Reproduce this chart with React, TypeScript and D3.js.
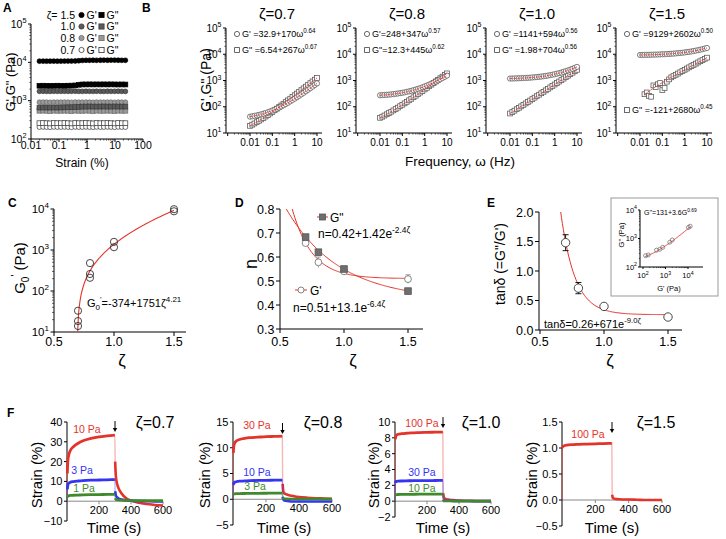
import React from "react";
import * as d3 from "d3";

const FONT = "'Liberation Sans', Arial, Helvetica, sans-serif";
const RED = "#e3342b";
const BLUE = "#3434f2";
const GREEN = "#3f8a2d";

// ---------------- Panel A : strain sweep ----------------
const strainA = [0.02, 0.027, 0.036, 0.048, 0.065, 0.087, 0.117, 0.157, 0.21, 0.28, 0.38, 0.51, 0.68, 0.92, 1.23, 1.65, 2.2, 3.0, 4.0, 5.4, 7.2, 9.7, 13, 17.5, 23.5];
const gp15A = [10700, 10750, 10700, 10720, 10750, 10700, 10730, 10760, 10800, 10800, 10850, 11000, 11200, 11300, 11300, 11350, 11300, 11350, 11400, 11350, 11400, 11400, 11350, 11300, 11300];
const gpp15A = [2450, 2460, 2450, 2440, 2450, 2460, 2450, 2450, 2460, 2470, 2500, 2600, 2650, 2650, 2660, 2650, 2660, 2650, 2660, 2650, 2660, 2650, 2640, 2650, 2640];
const gp10A = [1750, 1760, 1750, 1745, 1760, 1750, 1750, 1760, 1750, 1755, 1760, 1750, 1750, 1760, 1755, 1750, 1760, 1750, 1745, 1760, 1750, 1755, 1760, 1750, 1745];
const gpp10A = [660, 665, 660, 660, 665, 660, 665, 670, 670, 675, 680, 690, 700, 700, 705, 700, 700, 700, 705, 700, 700, 705, 700, 700, 700];
const gp08A = [910, 915, 910, 905, 915, 910, 910, 915, 910, 905, 915, 910, 910, 915, 910, 905, 915, 910, 910, 915, 910, 905, 915, 910, 910];
const gpp08A = [545, 550, 545, 540, 550, 545, 545, 550, 545, 540, 550, 545, 545, 550, 545, 540, 550, 545, 545, 550, 545, 540, 550, 545, 545];
const gpp07A = [258, 260, 258, 255, 260, 258, 258, 260, 258, 255, 260, 258, 258, 260, 258, 255, 260, 258, 258, 260, 258, 255, 260, 258, 258];
const gp07A = [205, 207, 205, 203, 207, 205, 205, 207, 205, 203, 207, 205, 205, 207, 205, 203, 207, 205, 205, 207, 205, 203, 207, 205, 205];
const legendA = ["ζ= 1.5", "1.0", "0.8", "0.7"];
const xTicksA = [0.01, 0.1, 1, 10, 100];
const xTickLabelsA = ["0.01", "0.1", "1", "10", "100"];

// ---------------- Panel B : frequency sweeps ----------------
const freqB = [0.01, 0.0126, 0.0158, 0.02, 0.0251, 0.0316, 0.0398, 0.0501, 0.0631, 0.0794, 0.1, 0.126, 0.158, 0.2, 0.251, 0.316, 0.398, 0.501, 0.631, 0.794, 1, 1.26, 1.58, 2, 2.51, 3.16, 3.98, 5.01, 6.31, 7.94, 10];
const gp07B = [41.8, 43.2, 44.9, 46.8, 49.0, 51.6, 54.5, 57.9, 61.9, 66.5, 71.8, 78.0, 85.2, 93.5, 103, 114, 127, 142, 160, 180, 203, 230, 261, 297, 339, 388, 444, 510, 586, 673, 775];
const gpp07B = [18.7, 20.8, 23.1, 25.9, 29.2, 32.9, 37.3, 42.5, 48.4, 55.4, 63.6, 73.1, 84.2, 97.2, 112, 130, 151, 175, 203, 235, 274, 318, 370, 430, 502, 584, 680, 793, 924, 1077, 1255];
const gp08B = [273, 277, 281, 285, 290, 296, 303, 311, 320, 330, 341, 354, 369, 386, 406, 428, 453, 482, 515, 552, 595, 644, 699, 762, 834, 916, 1011, 1118, 1240, 1379, 1537];
const gpp08B = [37.9, 41.8, 46.4, 51.6, 57.6, 64.6, 72.6, 81.9, 92.5, 105, 119, 135, 154, 176, 201, 230, 264, 302, 347, 398, 457, 526, 604, 695, 800, 921, 1060, 1221, 1406, 1620, 1867];
const gp10B = [1186, 1192, 1199, 1207, 1216, 1227, 1239, 1252, 1267, 1285, 1305, 1327, 1353, 1382, 1415, 1453, 1496, 1544, 1600, 1663, 1735, 1817, 1910, 2015, 2136, 2273, 2429, 2606, 2807, 3036, 3298];
const gpp10B = [55.4, 62.7, 71.1, 80.6, 91.4, 103.7, 118, 133.6, 152, 172.4, 196, 222.5, 253, 287.5, 327, 371.4, 422, 480, 546, 621, 706, 803, 913, 1038, 1181, 1343, 1528, 1738, 1977, 2248, 2558];
const gp15B = [9389, 9421, 9457, 9497, 9541, 9592, 9648, 9711, 9783, 9862, 9952, 10052, 10165, 10291, 10433, 10592, 10771, 10971, 11196, 11448, 11731, 12048, 12405, 12805, 13253, 13756, 14320, 14954, 15665, 16462, 17357];
const gpp15B = [NaN, NaN, 300, 350, 260, 240, 650, 560, 720, 800, 430, 520, 900, 1100, 1318, 1476, 1650, 1843, 2057, 2295, 2559, 2852, 3176, 3536, 3937, 4378, 4869, 5414, 6019, 6689, 7431];
const titlesB = ["ζ=0.7", "ζ=0.8", "ζ=1.0", "ζ=1.5"];
const fitGpB = [[32.9, 170, 0.64], [248, 347, 0.57], [1141, 594, 0.56], [9129, 2602, 0.5]];
const fitGppB = [[6.54, 267, 0.67], [12.3, 445, 0.62], [1.98, 704, 0.56], [-121, 2680, 0.45]];
const legGpB = ["G' =32.9+170ω", "G'=248+347ω", "G' =1141+594ω", "G' =9129+2602ω"];
const legGpExpB = ["0.64", "0.57", "0.56", "0.50"];
const legGppB = ['G" =6.54+267ω', 'G"=12.3+445ω', 'G" =1.98+704ω', 'G" =-121+2680ω'];
const legGppExpB = ["0.67", "0.62", "0.56", "0.45"];
const xTicksB = [0.01, 0.1, 1, 10];
const xTickLabelsB = ["0.01", "0.1", "1", "10"];

// ---------------- Panel C ----------------
const zetaC = [0.7, 0.7, 0.7, 0.8, 0.8, 0.8, 1.0, 1.0, 1.5, 1.5];
const g0C = [33, 18.5, 14, 480, 260, 210, 1580, 1170, 9900, 8800];
const fitC = [-374, 1751, 4.21];

// ---------------- Panel D ----------------
const zetaD = [0.7, 0.8, 1.0, 1.5];
const nGppD = [0.683, 0.62, 0.55, 0.458];
const nGppErrD = [0.01, 0.01, 0.005, 0.005];
const nGpD = [0.658, 0.578, 0.54, 0.508];
const nGpErrD = [0.008, 0.022, 0.006, 0.018];
const fitGppD = [0.42, 1.42, -2.4];
const fitGpD = [0.51, 13.1, -6.4];

// ---------------- Panel E ----------------
const zetaE = [0.7, 0.8, 1.0, 1.5];
const tanE = [1.48, 0.71, 0.40, 0.22];
const tanErrE = [0.135, 0.095, 0.02, 0.01];
const fitE = [0.26, 671, -9.0];
const insetGpE = [130, 170, 400, 560, 750, 1550, 2000, 10500, 12500];
const insetGppE = [250, 265, 390, 420, 490, 740, 890, 2450, 2700];
const fitInsetE = [131, 3.6, 0.69];

// ---------------- Panel F : creep ----------------
const tF = [0, 2, 5, 10, 20, 40, 70, 100, 150, 200, 250, 299, 301, 305, 310, 320, 340, 370, 400, 450, 500, 550, 600];
const f07_10 = [0, 14, 20, 23, 25.5, 27.5, 29.3, 30.5, 31.7, 32.5, 33, 33.4, 20, 13, 10, 7, 4, 1.5, 0.3, -0.8, -1.4, -1.9, -2.2];
const f07_3 = [0, 6, 8, 9, 9.5, 9.9, 10.2, 10.4, 10.6, 10.7, 10.8, 10.9, 5, 3, 2.2, 1.5, 0.9, 0.5, 0.3, 0.1, 0, -0.1, -0.1];
const f07_1 = [0, 2, 2.5, 2.7, 2.9, 3.0, 3.1, 3.2, 3.3, 3.35, 3.4, 3.45, 1.5, 0.9, 0.7, 0.6, 0.5, 0.4, 0.35, 0.3, 0.3, 0.3, 0.3];
const f08_30 = [0, 9, 10.3, 10.9, 11.3, 11.6, 11.8, 11.95, 12.05, 12.15, 12.2, 12.25, 3, 1.5, 1.2, 1.0, 0.8, 0.6, 0.45, 0.3, 0.2, 0.15, 0.1];
const f08_10 = [0, 2.8, 3.1, 3.3, 3.4, 3.5, 3.55, 3.6, 3.65, 3.68, 3.7, 3.72, 0.5, 0, -0.2, -0.3, -0.4, -0.45, -0.45, -0.45, -0.45, -0.45, -0.45];
const f08_3 = [0, 0.9, 1.0, 1.05, 1.08, 1.1, 1.12, 1.14, 1.16, 1.17, 1.18, 1.2, 0.3, 0.15, 0.1, 0.08, 0.06, 0.05, 0.05, 0.04, 0.04, 0.03, 0.03];
const f10_100 = [0, 7.8, 8.2, 8.35, 8.45, 8.52, 8.58, 8.62, 8.66, 8.69, 8.71, 8.72, 1, 0.5, 0.35, 0.25, 0.18, 0.12, 0.08, 0.05, 0.03, 0.02, 0];
const f10_30 = [0, 2.3, 2.45, 2.5, 2.53, 2.55, 2.57, 2.58, 2.6, 2.6, 2.61, 2.62, 0.2, 0.1, 0.08, 0.06, 0.05, 0.04, 0.03, 0.02, 0.01, 0, 0];
const f10_10 = [0, 0.75, 0.8, 0.82, 0.84, 0.85, 0.86, 0.87, 0.88, 0.89, 0.9, 0.9, 0.06, 0.04, 0.03, 0.02, 0.02, 0.01, 0.01, 0, 0, 0, 0];
const f15_100 = [0, 1.0, 1.03, 1.04, 1.05, 1.06, 1.065, 1.07, 1.075, 1.08, 1.085, 1.09, 0.1, 0.04, 0.03, 0.02, 0.015, 0.01, 0.01, 0.005, 0, 0, 0];
const titlesF = ["ζ=0.7", "ζ=0.8", "ζ=1.0", "ζ=1.5"];
const stressF = [["10 Pa", "3 Pa", "1 Pa"], ["30 Pa", "10 Pa", "3 Pa"], ["100 Pa", "30 Pa", "10 Pa"], ["100 Pa"]];
const yTicksF = [[-10, 0, 10, 20, 30, 40], [-5, 0, 5, 10, 15], [-2, 0, 2, 4, 6, 8, 10], [-0.5, 0, 0.5, 1, 1.5]];
const xTicksF = [200, 400, 600];

// ---------------- helpers ----------------
function SupText({ x, y, base, sup, fs, anchor = "start", fill = "#000", transform }: any) {
  return (
    <text x={x} y={y} fontSize={fs} textAnchor={anchor} fill={fill} transform={transform}>
      {base}
      <tspan dy={-fs * 0.45} fontSize={fs * 0.7}>{sup}</tspan>
    </text>
  );
}

function decadesOf(scale: any) {
  const [lo, hi] = scale.domain();
  const e0 = Math.round(Math.log10(lo));
  const e1 = Math.round(Math.log10(hi));
  const majors = d3.range(e0, e1 + 1);
  const minors: number[] = [];
  for (let e = e0; e < e1; e++) for (let m = 2; m <= 9; m++) minors.push(m * Math.pow(10, e));
  return { majors, minors, lo, hi };
}

function LogAxisY({ x, scale, fs, tick = 3, gap = 1.5 }: any) {
  const { majors, minors, lo, hi } = decadesOf(scale);
  return (
    <g>
      <line x1={x} x2={x} y1={scale(hi)} y2={scale(lo)} stroke="#000" strokeWidth={1} />
      {minors.map((v, i) => (
        <line key={"m" + i} x1={x - tick * 0.55} x2={x} y1={scale(v)} y2={scale(v)} stroke="#000" strokeWidth={0.6} />
      ))}
      {majors.map((e) => (
        <g key={e}>
          <line x1={x - tick} x2={x} y1={scale(Math.pow(10, e))} y2={scale(Math.pow(10, e))} stroke="#000" />
          <SupText x={x - tick - gap} y={scale(Math.pow(10, e)) + fs * 0.36} base="10" sup={String(e)} fs={fs} anchor="end" />
        </g>
      ))}
    </g>
  );
}

function LogAxisX({ y, scale, x0, x1, fs, ticks, labels, tick = 3, labelY, sup = false }: any) {
  const { majors, minors } = decadesOf(scale);
  return (
    <g>
      <line x1={x0} x2={x1} y1={y} y2={y} stroke="#000" strokeWidth={1} />
      {minors.map((v, i) => (
        <line key={"m" + i} x1={scale(v)} x2={scale(v)} y1={y} y2={y + tick * 0.55} stroke="#000" strokeWidth={0.6} />
      ))}
      {majors.map((e) => (
        <line key={e} x1={scale(Math.pow(10, e))} x2={scale(Math.pow(10, e))} y1={y} y2={y + tick} stroke="#000" />
      ))}
      {ticks.map((v: number, i: number) =>
        sup ? (
          <SupText key={"l" + i} x={scale(v)} y={labelY} base="10" sup={labels[i]} fs={fs} anchor="middle" />
        ) : (
          <text key={"l" + i} x={scale(v)} y={labelY} fontSize={fs} textAnchor="middle">{labels[i]}</text>
        )
      )}
    </g>
  );
}

function LinAxisY({ x, scale, ticks, fs, fmt, tick = 4 }: any) {
  const [lo, hi] = scale.domain();
  return (
    <g>
      <line x1={x} x2={x} y1={scale(hi)} y2={scale(lo)} stroke="#000" strokeWidth={1} />
      {ticks.map((v: number, i: number) => (
        <g key={i}>
          <line x1={x - tick} x2={x} y1={scale(v)} y2={scale(v)} stroke="#000" />
          <text x={x - tick - 1.5} y={scale(v) + fs * 0.36} fontSize={fs} textAnchor="end">{fmt(v)}</text>
        </g>
      ))}
    </g>
  );
}

function LinAxisX({ y, scale, x0, x1, ticks, fs, fmt, tick = 4, labelY, color = "#000" }: any) {
  return (
    <g>
      <line x1={x0} x2={x1} y1={y} y2={y} stroke={color} strokeWidth={1} />
      {ticks.map((v: number, i: number) => (
        <g key={i}>
          <line x1={scale(v)} x2={scale(v)} y1={y} y2={y + tick} stroke={color} />
          <text x={scale(v)} y={labelY} fontSize={fs} textAnchor="middle">{fmt(v)}</text>
        </g>
      ))}
    </g>
  );
}

function Marker({ shape, cx, cy, r, fill, stroke, sw = 0.8 }: any) {
  if (shape === "s")
    return <rect x={cx - r} y={cy - r} width={2 * r} height={2 * r} fill={fill} stroke={stroke} strokeWidth={sw} />;
  return <circle cx={cx} cy={cy} r={r} fill={fill} stroke={stroke} strokeWidth={sw} />;
}

// ---------------- Panel A ----------------
function PanelA() {
  const x = d3.scaleLog().domain([0.01, 100]).range([31, 143]);
  const y = d3.scaleLog().domain([100, 1e5]).range([139, 24]);
  const series = [
    { v: gp07A, s: "c", fill: "#fff", stroke: "#333" },
    { v: gpp07A, s: "s", fill: "#fff", stroke: "#333" },
    { v: gpp08A, s: "s", fill: "#9a9a9a", stroke: "#6a6a6a" },
    { v: gp08A, s: "c", fill: "#9a9a9a", stroke: "#6a6a6a" },
    { v: gpp10A, s: "s", fill: "#5a5a5a", stroke: "#3a3a3a" },
    { v: gp10A, s: "c", fill: "#5a5a5a", stroke: "#3a3a3a" },
    { v: gpp15A, s: "s", fill: "#000", stroke: "#000" },
    { v: gp15A, s: "c", fill: "#000", stroke: "#000" },
  ];
  const legStyle = [
    { fill: "#000", stroke: "#000" },
    { fill: "#5a5a5a", stroke: "#3a3a3a" },
    { fill: "#9a9a9a", stroke: "#6a6a6a" },
    { fill: "#fff", stroke: "#333" },
  ];
  const legY = [15, 26.5, 38, 50];
  return (
    <g>
      <text x={3} y={12} fontSize={12} fontWeight="bold">A</text>
      <text transform="translate(15,82) rotate(-90)" textAnchor="middle" fontSize={13}>G',G" (Pa)</text>
      <LogAxisY x={31} scale={y} fs={10.5} tick={3} />
      <LogAxisX y={139} scale={x} x0={31} x1={143} fs={10.5} ticks={xTicksA} labels={xTickLabelsA} labelY={149} />
      <text x={82} y={167} fontSize={12} textAnchor="middle">Strain (%)</text>
      {series.map((se, k) => (
        <g key={k}>
          {strainA.map((s, i) => (
            <Marker key={i} shape={se.s} cx={x(s)} cy={y(se.v[i])} r={2.4} fill={se.fill} stroke={se.stroke} sw={0.7} />
          ))}
        </g>
      ))}
      {legendA.map((t, k) => (
        <g key={k}>
          <text x={75} y={legY[k] + 3.6} fontSize={10.5} textAnchor="end">{t}</text>
          <Marker shape="c" cx={81.5} cy={legY[k]} r={2.6} fill={legStyle[k].fill} stroke={legStyle[k].stroke} />
          <text x={86.5} y={legY[k] + 3.6} fontSize={10.5}>G'</text>
          <Marker shape="s" cx={101.5} cy={legY[k]} r={2.6} fill={legStyle[k].fill} stroke={legStyle[k].stroke} />
          <text x={106.5} y={legY[k] + 3.6} fontSize={10.5}>G"</text>
        </g>
      ))}
    </g>
  );
}

// ---------------- Panel B ----------------
const axB = [226, 356, 486, 616];
const gpB = [gp07B, gp08B, gp10B, gp15B];
const gppB = [gpp07B, gpp08B, gpp10B, gpp15B];
function PanelB() {
  const y = d3.scaleLog().domain([10, 1e5]).range([133, 28]);
  const powFit = (p: number[]) => (w: number) => p[0] + p[1] * Math.pow(w, p[2]);
  return (
    <g>
      <text x={142} y={12} fontSize={12} fontWeight="bold">B</text>
      <text transform="translate(211,80) rotate(-90)" textAnchor="middle" fontSize={14}>G',G" (Pa)</text>
      <text x={460} y={166} textAnchor="middle" fontSize={13.5}>Frequency, ω (Hz)</text>
      {axB.map((ax, k) => {
        const x = d3.scaleLog().domain([0.001, 10]).range([ax + 1.7, ax + 91]);
        const line = d3.line<[number, number]>().x((d) => x(d[0])).y((d) => y(d[1]));
        const fitPath = (vals: number[], p: number[]) => {
          const start = freqB[vals.findIndex((v) => !isNaN(v))];
          const f = powFit(p);
          const pts: [number, number][] = d3.range(0, 81).map((i) => {
            const w = Math.pow(10, Math.log10(start) + (i / 80) * (1 - Math.log10(start)));
            return [w, f(w)];
          });
          return line(pts) || "";
        };
        const g2y = k === 3 ? 110 : 50;
        return (
          <g key={k}>
            <text x={ax + 51} y={19} fontSize={15} textAnchor="middle">{titlesB[k]}</text>
            <LogAxisY x={ax} scale={y} fs={10} tick={3} />
            <LogAxisX y={133} scale={x} x0={ax} x1={ax + 96} fs={10} ticks={xTicksB} labels={xTickLabelsB} labelY={146} />
            {freqB.map((w, i) =>
              isNaN(gppB[k][i]) ? null : (
                <Marker key={"s" + i} shape="s" cx={x(w)} cy={y(gppB[k][i])} r={2.4} fill="#fff" stroke="#555" sw={0.75} />
              )
            )}
            {freqB.map((w, i) => (
              <Marker key={"c" + i} shape="c" cx={x(w)} cy={y(gpB[k][i])} r={2.6} fill="#fff" stroke="#555" sw={0.75} />
            ))}
            <path d={fitPath(gppB[k], fitGppB[k])} fill="none" stroke={RED} strokeWidth={1} strokeDasharray="2.5,1.2" />
            <path d={fitPath(gpB[k], fitGpB[k])} fill="none" stroke={RED} strokeWidth={1} strokeDasharray="2.5,1.2" />
            <Marker shape="c" cx={ax + 11} cy={34} r={2.6} fill="#fff" stroke="#444" />
            <SupText x={ax + 16} y={37.2} base={legGpB[k]} sup={legGpExpB[k]} fs={9} />
            <Marker shape="s" cx={ax + 11} cy={g2y} r={2.4} fill="#fff" stroke="#444" />
            <SupText x={ax + 16} y={g2y + 3.2} base={legGppB[k]} sup={legGppExpB[k]} fs={9} />
          </g>
        );
      })}
    </g>
  );
}

// ---------------- Panel C ----------------
function PanelC() {
  const x = d3.scaleLinear().domain([0.5, 1.5]).range([54, 174]);
  const y = d3.scaleLog().domain([10, 1e4]).range([332, 209]);
  const f = (z: number) => fitC[0] + fitC[1] * Math.pow(z, fitC[2]);
  const pts: [number, number][] = d3.range(0, 121).map((i) => {
    const z = 0.6974 + (i / 120) * (1.5 - 0.6974);
    return [z, Math.max(f(z), 10)];
  });
  const line = d3.line<[number, number]>().x((d) => x(d[0])).y((d) => y(d[1])).curve(d3.curveMonotoneX);
  return (
    <g>
      <text x={8} y={207} fontSize={12} fontWeight="bold">C</text>
      <text transform="translate(25,268) rotate(-90)" textAnchor="middle" fontSize={15}>
        G<tspan dy={4} fontSize={10}>0</tspan>
        <tspan dy={-10} fontSize={10}>'</tspan>
        <tspan dy={6}> (Pa)</tspan>
      </text>
      <LogAxisY x={54} scale={y} fs={11.5} tick={3.5} />
      <LinAxisX y={332} scale={x} x0={54} x1={186} ticks={[0.5, 1.0, 1.5]} fs={12.5} fmt={d3.format(".1f")} labelY={346} />
      <text x={122} y={366} fontSize={17} textAnchor="middle">ζ</text>
      <path d={line(pts) || ""} fill="none" stroke={RED} strokeWidth={1.1} />
      {zetaC.map((z, i) => (
        <circle key={i} cx={x(z)} cy={y(g0C[i])} r={3.6} fill="none" stroke="#333" strokeWidth={0.9} />
      ))}
      <text x={87} y={307} fontSize={11}>
        G<tspan dy={3} fontSize={8}>0</tspan>
        <tspan dy={-8} fontSize={8}>'</tspan>
        <tspan dy={5}>=-374+1751ζ</tspan>
        <tspan dy={-5} fontSize={8}>4.21</tspan>
      </text>
    </g>
  );
}

// ---------------- Panel D ----------------
function PanelD() {
  const x = d3.scaleLinear().domain([0.5, 1.5]).range([280, 408]);
  const y = d3.scaleLinear().domain([0.3, 0.8]).range([329, 209]);
  const expFit = (p: number[]) => (z: number) => p[0] + p[1] * Math.exp(p[2] * z);
  const curve = (p: number[]) => {
    const f = expFit(p);
    const pts: [number, number][] = d3.range(0, 121).map((i) => {
      const z = 0.5 + i / 120;
      return [z, f(z)];
    });
    return d3.line<[number, number]>().x((d) => x(d[0])).y((d) => y(d[1]))(pts) || "";
  };
  return (
    <g>
      <text x={235} y={207} fontSize={12} fontWeight="bold">D</text>
      <text transform="translate(257,264) rotate(-90)" textAnchor="middle" fontSize={18}>n</text>
      <defs>
        <clipPath id="clipD"><rect x={280} y={209} width={146} height={121} /></clipPath>
      </defs>
      <LinAxisY x={280} scale={y} ticks={[0.3, 0.4, 0.5, 0.6, 0.7, 0.8]} fs={12.5} fmt={d3.format(".1f")} />
      <LinAxisX y={329} scale={x} x0={280} x1={423} ticks={[0.5, 1.0, 1.5]} fs={12.5} fmt={d3.format(".1f")} labelY={346} />
      <text x={353} y={366} fontSize={17} textAnchor="middle">ζ</text>
      <g clipPath="url(#clipD)">
        <path d={curve(fitGppD)} fill="none" stroke={RED} strokeWidth={1} />
        <path d={curve(fitGpD)} fill="none" stroke={RED} strokeWidth={1} />
      </g>
      {zetaD.map((z, i) => (
        <g key={i}>
          <line x1={x(z)} x2={x(z)} y1={y(nGpD[i] - nGpErrD[i])} y2={y(nGpD[i] + nGpErrD[i])} stroke="#888" strokeWidth={0.8} />
          <line x1={x(z) - 2.5} x2={x(z) + 2.5} y1={y(nGpD[i] + nGpErrD[i])} y2={y(nGpD[i] + nGpErrD[i])} stroke="#888" strokeWidth={0.8} />
          <circle cx={x(z)} cy={y(nGpD[i])} r={3.4} fill="#fff" stroke="#777" strokeWidth={0.9} />
        </g>
      ))}
      {zetaD.map((z, i) => (
        <g key={"s" + i}>
          <line x1={x(z)} x2={x(z)} y1={y(nGppD[i] - nGppErrD[i])} y2={y(nGppD[i] + nGppErrD[i])} stroke="#555" strokeWidth={0.8} />
          <rect x={x(z) - 3.3} y={y(nGppD[i]) - 3.3} width={6.6} height={6.6} fill="#6e6e6e" stroke="#555" strokeWidth={0.8} />
        </g>
      ))}
      <line x1={317} x2={328} y1={217} y2={217} stroke={RED} strokeWidth={1} />
      <rect x={319.5} y={214} width={6} height={6} fill="#6e6e6e" stroke="#555" strokeWidth={0.8} />
      <text x={330} y={221.5} fontSize={12}>G"</text>
      <SupText x={318} y={238} base="n=0.42+1.42e" sup="-2.4ζ" fs={12} />
      <line x1={295} x2={307} y1={290} y2={290} stroke={RED} strokeWidth={1} />
      <circle cx={301} cy={290} r={3} fill="#fff" stroke="#777" strokeWidth={0.9} />
      <text x={310} y={294.5} fontSize={12}>G'</text>
      <SupText x={293} y={312} base="n=0.51+13.1e" sup="-6.4ζ" fs={12} />
    </g>
  );
}

// ---------------- Panel E ----------------
function PanelE() {
  const x = d3.scaleLinear().domain([0.5, 1.5]).range([540, 668]);
  const y = d3.scaleLinear().domain([0, 2]).range([330, 212]);
  const f = (z: number) => fitE[0] + fitE[1] * Math.exp(fitE[2] * z);
  const pts: [number, number][] = d3.range(0, 121).map((i) => {
    const z = 0.6 + (i / 120) * 0.9;
    return [z, f(z)];
  });
  const line = d3.line<[number, number]>().x((d) => x(d[0])).y((d) => y(d[1]));
  const ix = d3.scaleLog().domain([100, 1e4]).range([643, 688]);
  const iy = d3.scaleLog().domain([100, 1e4]).range([267, 210]);
  const fi = (g: number) => fitInsetE[0] + fitInsetE[1] * Math.pow(g, fitInsetE[2]);
  const ipts: [number, number][] = d3.range(0, 61).map((i) => {
    const g = Math.pow(10, Math.log10(125) + (i / 60) * (Math.log10(13000) - Math.log10(125)));
    return [g, fi(g)];
  });
  const iline = d3.line<[number, number]>().x((d) => ix(d[0])).y((d) => iy(d[1]));
  return (
    <g>
      <text x={487} y={207} fontSize={12} fontWeight="bold">E</text>
      <text transform="translate(505,264) rotate(-90)" textAnchor="middle" fontSize={14}>tanδ (=G"/G')</text>
      <defs>
        <clipPath id="clipE"><rect x={540} y={212} width={150} height={119} /></clipPath>
      </defs>
      <LinAxisY x={539} scale={y} ticks={[0, 0.5, 1, 1.5, 2]} fs={12.5} fmt={d3.format(".1f")} />
      <LinAxisX y={330} scale={x} x0={539} x1={682} ticks={[0.5, 1.0, 1.5]} fs={12.5} fmt={d3.format(".1f")} labelY={346} />
      <text x={610} y={366} fontSize={17} textAnchor="middle">ζ</text>
      <g clipPath="url(#clipE)">
        <path d={line(pts) || ""} fill="none" stroke={RED} strokeWidth={1} />
      </g>
      {zetaE.map((z, i) => (
        <g key={i}>
          <line x1={x(z)} x2={x(z)} y1={y(tanE[i] - tanErrE[i])} y2={y(tanE[i] + tanErrE[i])} stroke="#000" strokeWidth={0.9} />
          <line x1={x(z) - 3} x2={x(z) + 3} y1={y(tanE[i] - tanErrE[i])} y2={y(tanE[i] - tanErrE[i])} stroke="#000" strokeWidth={0.9} />
          <line x1={x(z) - 3} x2={x(z) + 3} y1={y(tanE[i] + tanErrE[i])} y2={y(tanE[i] + tanErrE[i])} stroke="#000" strokeWidth={0.9} />
          <circle cx={x(z)} cy={y(tanE[i])} r={4.2} fill="#fff" stroke="#333" strokeWidth={0.9} />
        </g>
      ))}
      <SupText x={544} y={328} base="tanδ=0.26+671e" sup="-9.0ζ" fs={11} />
      {/* inset */}
      <rect x={611} y={198} width={107} height={98} fill="#fff" stroke="#999" strokeWidth={1} />
      <LogAxisY x={640} scale={iy} fs={7.5} tick={2} gap={1} />
      <LogAxisX y={267} scale={ix} x0={640} x1={703} fs={7.5} ticks={[100, 1000, 10000]} labels={["2", "3", "4"]} labelY={278} tick={2} sup={true} />
      <text transform="translate(624,235) rotate(-90)" textAnchor="middle" fontSize={7.5}>G" (Pa)</text>
      <text x={669} y={291} textAnchor="middle" fontSize={7.5}>G' (Pa)</text>
      <SupText x={644} y={215} base="G''=131+3.6G" sup="0.69" fs={7} />
      <path d={iline(ipts) || ""} fill="none" stroke={RED} strokeWidth={0.9} />
      {insetGpE.map((g, i) => (
        <circle key={i} cx={ix(g)} cy={iy(insetGppE[i])} r={2} fill="none" stroke="#666" strokeWidth={0.7} />
      ))}
    </g>
  );
}

// ---------------- Panel F ----------------
const axF = [67, 233, 395, 562];
const xEndF = [163, 332, 491, 662];
const yDomF = [[-10, 40], [-5, 15], [-2, 10], [-0.5, 1.5]];
const yRangeF = [[521, 422], [525, 422], [517, 422], [526, 422]];
const seriesF = [[f07_10, f07_3, f07_1], [f08_30, f08_10, f08_3], [f10_100, f10_30, f10_10], [f15_100]];
const colorsF = [RED, BLUE, GREEN];
const labelPosF = [
  [[87, 433], [82, 474], [84, 492]],
  [[257, 429], [257, 476], [255, 490]],
  [[422, 427], [422, 476], [422, 492]],
  [[588, 438]],
];
const arrowBottomF = [432, 434, 428, 433];
const titleXF = [155, 323, 481, 656];
const yLabelXF = [42, 210, 379, 537];
const timeLabelXF = [114, 284, 443, 612];

function PanelF() {
  return (
    <g>
      <text x={7} y={417} fontSize={12} fontWeight="bold">F</text>
      {axF.map((ax, k) => {
        const x = d3.scaleLinear().domain([0, 600]).range([ax, xEndF[k]]);
        const y = d3.scaleLinear().domain(yDomF[k]).range(yRangeF[k]);
        const fmt = k === 3 ? d3.format(".1f") : d3.format("d");
        const line = d3.line<[number, number]>().x((d) => x(d[0])).y((d) => y(d[1])).curve(d3.curveMonotoneX);
        const ax0 = x(300);
        return (
          <g key={k}>
            <text x={titleXF[k]} y={428} fontSize={16} textAnchor="middle">{titlesF[k]}</text>
            <text transform={`translate(${yLabelXF[k]},475) rotate(-90)`} textAnchor="middle" fontSize={15}>Strain (%)</text>
            <text x={timeLabelXF[k]} y={533} fontSize={15} textAnchor="middle">Time (s)</text>
            <LinAxisX y={y(0)} scale={x} x0={ax} x1={xEndF[k]} ticks={xTicksF} fs={11} fmt={d3.format("d")} tick={3} labelY={y(0) + 13} color="#888" />
            <LinAxisY x={ax} scale={y} ticks={yTicksF[k]} fs={11} fmt={fmt} tick={3} />
            {seriesF[k].map((vals, j) => {
              const pts: [number, number][] = tF.map((t, i) => [t, vals[i]]);
              return (
                <g key={j}>
                  <path d={line(pts) || ""} fill="none" stroke={colorsF[j]} strokeOpacity={0.35} strokeWidth={1.4} />
                  <path d={line(pts.slice(1, 12)) || ""} fill="none" stroke={colorsF[j]} strokeWidth={2.8} />
                  <path d={line(pts.slice(12)) || ""} fill="none" stroke={colorsF[j]} strokeWidth={2.6} />
                </g>
              );
            })}
            {stressF[k].map((s, j) => (
              <text key={j} x={labelPosF[k][j][0]} y={labelPosF[k][j][1]} fontSize={10.5} fill={colorsF[j]} textAnchor="middle">{s}</text>
            ))}
            <line x1={ax0} x2={ax0} y1={arrowBottomF[k] - 11} y2={arrowBottomF[k] - 2} stroke="#000" strokeWidth={1} />
            <path d={`M${ax0 - 2.2},${arrowBottomF[k] - 4} L${ax0 + 2.2},${arrowBottomF[k] - 4} L${ax0},${arrowBottomF[k]} Z`} fill="#000" />
          </g>
        );
      })}
    </g>
  );
}

export default function App() {
  return (
    <svg
      width={726}
      height={539}
      viewBox="0 0 726 539"
      style={{ position: "absolute", left: 0, top: 0, display: "block" }}
      fontFamily={FONT}
    >
      <rect width={726} height={539} fill="#fff" />
      <PanelA />
      <PanelB />
      <PanelC />
      <PanelD />
      <PanelE />
      <PanelF />
    </svg>
  );
}
